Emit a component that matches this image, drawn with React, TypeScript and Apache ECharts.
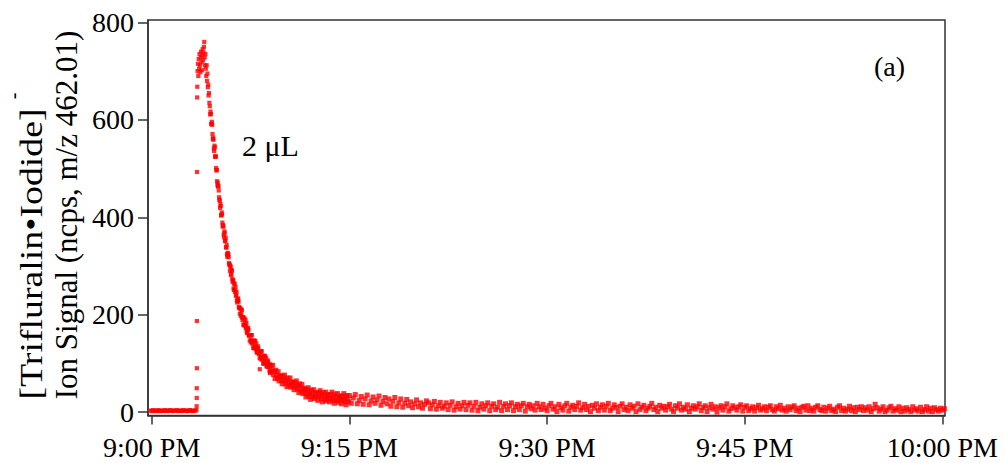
import React, { useEffect, useRef } from 'react';
import * as echarts from 'echarts';

// Axis ticks (x in minutes after 9:00 PM)
const xTickValues = [0, 15, 30, 45, 60];
const xTickLabels = ['9:00 PM', '9:15 PM', '9:30 PM', '9:45 PM', '10:00 PM'];
const yTickValues = [0, 200, 400, 600, 800];

// Baseline before injection (minutes from -0.1, every 0.1 min)
const baselineStart = -0.1;
const baselineStep = 0.1;
const baselineValues = [3, 2, 4, 3, 2, 3, 4, 2, 3, 3, 2, 4, 3, 2, 3, 4, 3, 2, 3, 3, 4, 2, 3, 3, 2, 4, 3, 3, 2, 3, 4, 3, 2, 3, 3, 4];

// Isolated points on the rising edge
const spikeTimes = [3.41, 3.42, 3.42, 3.43, 3.43, 3.44, 3.45, 3.46];
const spikeValues = [12, 29, 49, 90, 187, 493, 646, 668];

// Peak (from 3.48 min, every 0.03 min)
const peakStart = 3.48;
const peakStep = 0.03;
const peakValues = [700, 715, 690, 725, 705, 735, 712, 698, 728, 740, 718, 702, 732, 745, 722, 738, 750, 760, 728, 712, 735, 705, 690, 712, 680, 695, 667, 672, 650, 655, 635, 628];

// Fast decay (from 4.44 min, every 0.05 min)
const decayStart = 4.44;
const decayStep = 0.05;
const decayValues = [
  611, 612, 591, 590, 561, 559, 536, 544, 524, 501,
  497, 466, 463, 455, 436, 419, 423, 404, 406, 381,
  381, 359, 368, 352, 338, 343, 319, 322, 318, 303,
  290, 298, 284, 290, 267, 270, 251, 263, 249, 239,
  247, 225, 229, 227, 214, 202, 212, 201, 209, 189,
  195, 178, 192, 181, 172, 183, 162, 169, 168, 157,
  147, 158, 148, 158, 140, 146, 131, 147, 137, 129,
  141, 122, 130, 130, 120, 111, 124, 114, 125, 107,
  114, 99, 116, 106, 99, 111, 93, 101, 102, 93,
  85, 98,
];

// Fast decay, interleaved samples (from 4.465 min, every 0.05 min)
const decayBStart = 4.465;
const decayBStep = 0.05;
const decayBValues = [
  617, 592, 596, 571, 563, 541, 547, 525, 525, 496,
  474, 471, 464, 441, 434, 427, 404, 410, 389, 384,
  364, 371, 351, 358, 338, 324, 327, 325, 306, 303,
  300, 281, 292, 274, 271, 254, 264, 247, 257, 240,
  229, 233, 233, 216, 214, 213, 197, 210, 194, 195,
  180, 192, 178, 189, 175, 165, 172, 173, 158, 158,
  158, 143, 158, 144, 146, 132, 146, 133, 146, 132,
  124, 132, 135, 120, 122, 123, 109, 125, 111, 113,
  100, 115, 102, 115, 102, 95, 103, 106, 93, 95,
  97, 83,
];

// Slow decay (from 9.0 min, every 0.06 min)
const kneeStart = 9.0;
const kneeStep = 0.06;
const kneeValues = [
  81, 95, 85, 96, 77, 84, 69, 86, 76, 70,
  83, 64, 73, 75, 66, 58, 73, 64, 76, 58,
  66, 52, 70, 61, 55, 70, 51, 60, 62, 53,
  46, 61, 52, 64, 47, 55, 40, 58, 49, 43,
  57, 38, 47, 49, 40, 31, 46, 37, 50, 32,
  41, 26, 45, 37, 31, 46, 28, 37, 40, 32,
  24, 40, 32, 44, 27, 36, 21, 40, 32, 26,
  41, 23, 33, 36, 28, 21, 36, 28, 41, 24,
  33, 18, 37, 29, 24, 38, 20, 30, 33, 25,
  17, 33, 25, 38, 21, 30, 15, 34, 26, 21,
];

// Tail (from 15.0 min, every 0.15 min)
const tailStart = 15.0;
const tailStep = 0.15;
const tailValues = [
  34, 18, 29, 36, 17, 24, 32, 16, 27, 35, 15, 23, 31, 18, 25, 33, 14, 22, 30, 17,
  27, 12, 22, 30, 11, 19, 27, 10, 18, 26, 13, 21, 9, 17, 25, 11, 19, 8, 16, 23,
  19, 7, 15, 22, 6, 13, 20, 8, 12, 19, 5, 14, 21, 4, 11, 18, 6, 13, 20, 5,
  14, 19, 4, 12, 20, 3, 10, 17, 6, 13, 19, 3, 12, 17, 5, 10, 20, 3, 12, 17,
  5, 13, 19, 3, 11, 16, 5, 13, 18, 2, 11, 16, 7, 13, 4, 18, 11, 5, 16, 8,
  3, 13, 18, 6, 11, 1, 16, 9, 4, 13, 18, 2, 10, 14, 5, 12, 19, 4, 9, 16,
  5, 12, 1, 14, 8, 17, 3, 10, 15, 4, 12, 18, 3, 8, 15, 10, 1, 12, 17, 5,
  10, 3, 15, 8, 12, 1, 17, 5, 10, 14, 3, 8, 12, 18, 5, 10, 1, 14, 8, 12,
  4, 11, 16, 6, 1, 13, 8, 17, 4, 10, 6, 15, 1, 8, 13, 6, 11, 17, 3, 9,
  13, 1, 9, 16, 6, 11, 0, 9, 13, 4, 11, 17, 2, 7, 13, 9, 4, 11, 15, 2,
  10, 13, 3, 7, 11, 2, 9, 14, 4, 7, 11, 3, 10, 13, 5, 2, 11, 7, 14, 4,
  8, 2, 11, 5, 10, 13, 3, 8, 1, 10, 12, 4, 13, 3, 8, 2, 10, 13, 5, 3,
  10, 2, 8, 12, 3, 6, 1, 10, 13, 3, 8, 2, 6, 12, 3, 9, 1, 10, 5, 11,
  3, 9, 4, 11, 1, 7, 16, 9, 2, 6, 11, 1, 4, 9, 12, 2, 7, 4, 11, 1,
  8, 2, 9, 5, 1, 11, 4, 7, 2, 10, 1, 5, 11, 2, 8, 1, 9, 5, 2, 8,
  4, 7,
];

// Stray point below the decay band
const outlierTimes = [8.2];
const outlierValues = [88];

const segments = [
  { start: baselineStart, step: baselineStep, values: baselineValues },
  { start: peakStart, step: peakStep, values: peakValues },
  { start: decayStart, step: decayStep, values: decayValues },
  { start: decayBStart, step: decayBStep, values: decayBValues },
  { start: kneeStart, step: kneeStep, values: kneeValues },
  { start: tailStart, step: tailStep, values: tailValues },
];

function buildData(): number[][] {
  const pts: number[][] = [];
  segments.forEach((seg) => {
    seg.values.forEach((v, i) => {
      pts.push([+(seg.start + i * seg.step).toFixed(3), v]);
    });
  });
  spikeTimes.forEach((t, i) => pts.push([t, spikeValues[i]]));
  outlierTimes.forEach((t, i) => pts.push([t, outlierValues[i]]));
  return pts;
}

const SERIF = 'Liberation Serif';

export default function App() {
  const ref = useRef<HTMLDivElement>(null);
  useEffect(() => {
    if (!ref.current) return;
    const chart = echarts.init(ref.current, undefined, { renderer: 'svg' });
    const axisColor = '#333';
    chart.setOption({
      animation: false,
      backgroundColor: '#fff',
      grid: {
        left: 148,
        right: 60,
        top: 20,
        bottom: 47.5,
        show: true,
        borderColor: axisColor,
        borderWidth: 1.5,
        containLabel: false,
        outerBoundsMode: 'none',
      },
      xAxis: {
        type: 'value',
        min: -0.28,
        max: 60.2,
        axisLine: { show: true, onZero: false, lineStyle: { color: axisColor, width: 1.5 } },
        axisTick: { show: true, inside: false, length: 9, customValues: xTickValues, lineStyle: { color: axisColor, width: 1.5 } },
        axisLabel: {
          customValues: xTickValues,
          formatter: (v: number) => {
            const idx = xTickValues.indexOf(Math.round(v));
            return idx >= 0 ? xTickLabels[idx] : '';
          },
          fontFamily: SERIF,
          fontSize: 28,
          color: '#000',
          margin: 18,
        },
        splitLine: { show: false },
      },
      yAxis: {
        type: 'value',
        min: -7,
        max: 805,
        axisLine: { show: true, onZero: false, lineStyle: { color: axisColor, width: 1.5 } },
        axisTick: { show: true, inside: false, length: 10, customValues: yTickValues, lineStyle: { color: axisColor, width: 1.5 } },
        axisLabel: {
          customValues: yTickValues,
          fontFamily: SERIF,
          fontSize: 28,
          color: '#000',
          margin: 14,
        },
        splitLine: { show: false },
      },
      series: [
        {
          type: 'scatter',
          data: buildData(),
          symbol: 'rect',
          symbolSize: (v: number[]) => (v[0] >= 9 ? 5 : 4.2),
          itemStyle: { color: '#ff0000' },
          silent: true,
        },
      ],
      graphic: [
        {
          type: 'text',
          x: 31,
          y: 254,
          rotation: Math.PI / 2,
          scaleX: 1.22,
          style: {
            text: '[Trifluralin•Iodide]',
            fontFamily: SERIF,
            fontSize: 31,
            fill: '#000',
            textAlign: 'center',
            textVerticalAlign: 'middle',
          },
        },
        {
          type: 'text',
          x: 13,
          y: 96,
          rotation: Math.PI / 2,
          style: {
            text: '-',
            fontFamily: SERIF,
            fontSize: 20,
            fill: '#000',
            textAlign: 'center',
            textVerticalAlign: 'middle',
          },
        },
        {
          type: 'text',
          x: 66,
          y: 215,
          rotation: Math.PI / 2,
          style: {
            text: 'Ion Signal (ncps, m/z 462.01)',
            fontFamily: SERIF,
            fontSize: 31,
            fill: '#000',
            textAlign: 'center',
            textVerticalAlign: 'middle',
          },
        },
        {
          type: 'text',
          x: 242,
          y: 145,
          style: {
            text: '2 μL',
            fontFamily: SERIF,
            fontSize: 30,
            fill: '#000',
            textAlign: 'left',
            textVerticalAlign: 'middle',
          },
        },
        {
          type: 'text',
          x: 889.5,
          y: 66,
          style: {
            text: '(a)',
            fontFamily: SERIF,
            fontSize: 28,
            fill: '#000',
            textAlign: 'center',
            textVerticalAlign: 'middle',
          },
        },
      ],
    });
    return () => chart.dispose();
  }, []);
  return (
    <div
      ref={ref}
      style={{ position: 'absolute', left: 0, top: 0, width: 1005, height: 463, background: '#fff' }}
    />
  );
}
